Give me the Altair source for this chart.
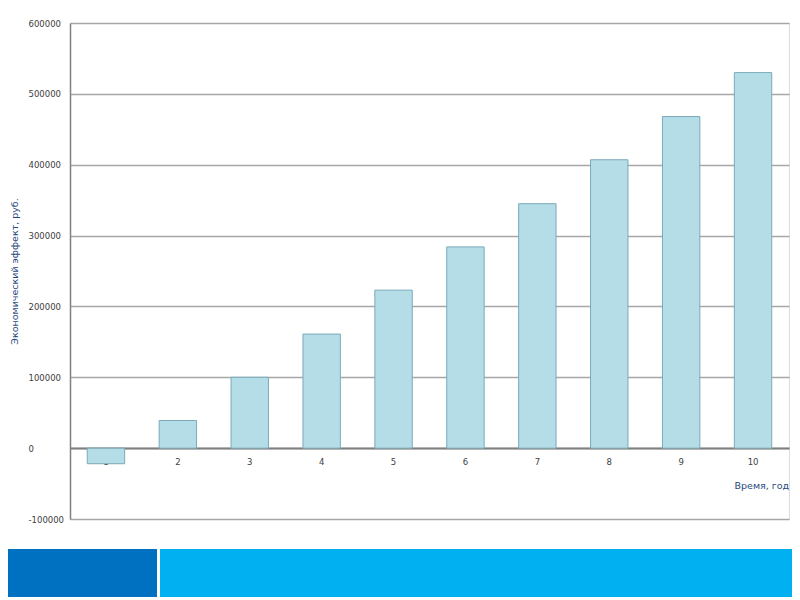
import altair as alt
import pandas as pd

years = [1, 2, 3, 4, 5, 6, 7, 8, 9, 10]
effect = [-22000, 39000, 100000, 161000, 223000, 284000, 345000, 407000, 468000, 530000]
y_ticks = [-100000, 0, 100000, 200000, 300000, 400000, 500000, 600000]

footer_colors = ["#0070c0", "#00b0f0"]

df = pd.DataFrame({"year": years, "effect": effect})

W, H = 719, 496

bars = alt.Chart(df).mark_bar(
    fill="#b4dde8", stroke="#7aaab8", strokeWidth=1
).encode(
    x=alt.X("year:O", title="Время, год",
            scale=alt.Scale(paddingInner=0.48, paddingOuter=0.24),
            axis=alt.Axis(
                offset=-71, labelAngle=0, ticks=False, grid=False,
                domainColor="#808080", domainWidth=2,
                labelFont="DejaVu Sans", labelFontSize=8.5, labelColor="#404040",
                labelPadding=9, zindex=0,
                titleFont="DejaVu Sans", titleFontSize=9.5, titleFontWeight="normal",
                titleColor="#1f497d", titleAlign="left", titleAnchor="start",
                titleX=664, titleY=37, titleBaseline="middle",
            )),
    y=alt.Y("effect:Q", title="Экономический эффект, руб.",
            scale=alt.Scale(domain=[-100000, 600000], nice=False),
            axis=alt.Axis(
                values=y_ticks, labelExpr="toString(datum.value)", ticks=False,
                domainColor="#808080", domainWidth=1.5,
                gridColor="#a6a6a6", gridWidth=1.5,
                labelFont="DejaVu Sans", labelFontSize=8.5, labelColor="#404040",
                labelAlign="left", labelPadding=42,
                titleFont="DejaVu Sans", titleFontSize=9.5, titleFontWeight="normal",
                titleColor="#1f497d", titleX=-56, titleBaseline="middle",
            )),
)

footer_df = pd.DataFrame({"part": ["a", "b"], "color": footer_colors})
footer_a = alt.Chart(footer_df.iloc[[0]]).mark_rect(clip=False).encode(
    x=alt.value(-62), x2=alt.value(87), y=alt.value(526), y2=alt.value(575),
    color=alt.Color("color:N", scale=None),
)
footer_b = alt.Chart(footer_df.iloc[[1]]).mark_rect(clip=False).encode(
    x=alt.value(90), x2=alt.value(730), y=alt.value(526), y2=alt.value(575),
    color=alt.Color("color:N", scale=None),
)

chart = alt.layer(bars, footer_a, footer_b).properties(
    width=W, height=H,
    autosize=alt.AutoSizeParams(type="none"),
    padding={"left": 62, "top": 15, "right": 3, "bottom": 78},
).configure_view(stroke=None).configure(background="white")

chart.save("out.html", embed_options={"renderer": "svg", "actions": False})
